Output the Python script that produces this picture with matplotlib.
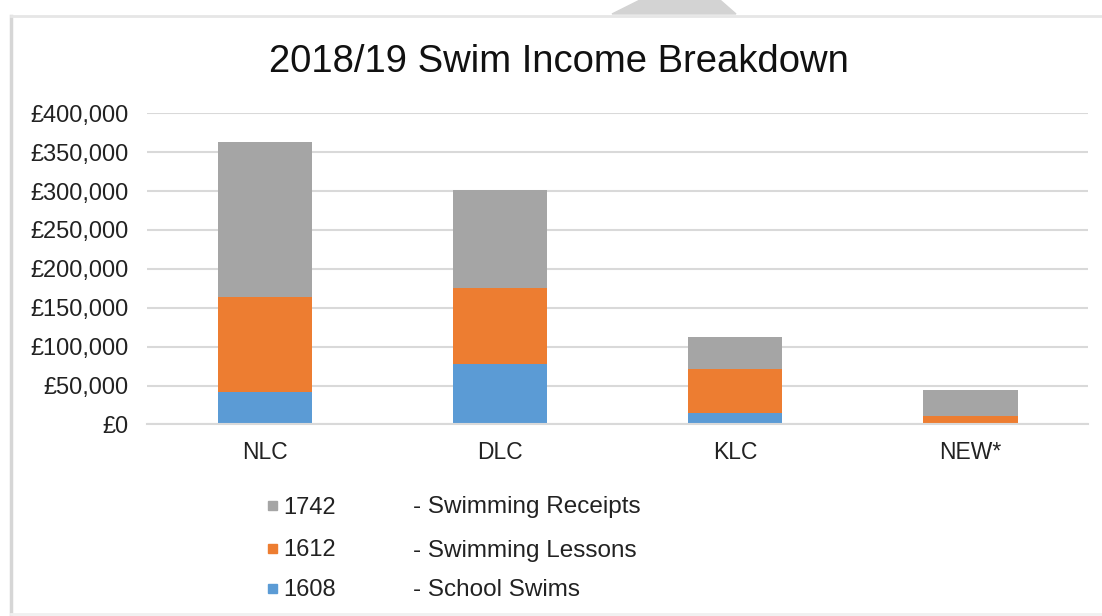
"""Stacked bar chart of swim income by centre, 2018/19."""

import matplotlib
matplotlib.use("Agg")
import matplotlib.pyplot as plt
from matplotlib.patches import Polygon, Rectangle
from matplotlib.ticker import FuncFormatter

centres = ["NLC", "DLC", "KLC", "NEW*"]
school_swims = [42000, 78000, 15000, 0]          # 1608
swimming_lessons = [122000, 97000, 56000, 11000]  # 1612
swimming_receipts = [199000, 126000, 41500, 33000]  # 1742

legend_codes = ["1742", "1612", "1608"]
legend_names = ["- Swimming Receipts", "- Swimming Lessons", "- School Swims"]

BLUE, ORANGE, GREY = "#5B9BD5", "#ED7D31", "#A5A5A5"

plt.rcParams["font.family"] = ["Liberation Sans", "DejaVu Sans"]

fig = plt.figure(figsize=(11.02, 6.16), dpi=100)
ax = fig.add_axes([0.1334, 0.311, 0.854, 0.505])

x = range(len(centres))
lessons_base = [a for a in school_swims]
receipts_base = [a + b for a, b in zip(school_swims, swimming_lessons)]
width = 0.4
ax.bar(x, school_swims, width, color=BLUE, zorder=2)
ax.bar(x, swimming_lessons, width, bottom=lessons_base, color=ORANGE, zorder=2)
ax.bar(x, swimming_receipts, width, bottom=receipts_base, color=GREY, zorder=2)

ax.set_xlim(-0.5, len(centres) - 0.5)
ax.set_ylim(0, 400000)
ax.set_yticks(range(0, 400001, 50000))
ax.yaxis.set_major_formatter(FuncFormatter(lambda v, _: f"£{v:,.0f}"))
ax.set_xticks(list(x))
ax.set_xticklabels(centres)
ax.tick_params(axis="y", length=0, pad=13, labelsize=17, labelcolor="#222222")
ax.tick_params(axis="x", length=0, pad=12, labelsize=16.5, labelcolor="#222222")
ax.grid(axis="y", color="#d9d9d9", linewidth=1.5, zorder=0)
for side in ("top", "right", "left"):
    ax.spines[side].set_visible(False)
ax.spines["bottom"].set_color("#d9d9d9")
ax.spines["bottom"].set_linewidth(1.5)

fig.text(0.507, 0.900, "2018/19 Swim Income Breakdown", ha="center", va="center",
         fontsize=27.5, color="#111111")

# legend rows drawn by hand: colour square, account code, description
legend_colors = [GREY, ORANGE, BLUE]
row_y = [505, 548, 588]
for code, name, colour, y in zip(legend_codes, legend_names, legend_colors, row_y):
    fy = 1 - y / 616
    fig.patches.append(Rectangle((268 / 1102, fy - 4.5 / 616), 9 / 1102, 9 / 616,
                                 transform=fig.transFigure, color=colour))
    fig.text(283 / 1102, fy, code, ha="left", va="center_baseline", fontsize=17,
             color="#222222")
    fig.text(413 / 1102, fy, name, ha="left", va="center_baseline", fontsize=17.5,
             color="#222222")

# outer chart frame and the faint shape above it
fig.lines.append(plt.Line2D([11 / 1102, 11 / 1102], [0, 1 - 16 / 616],
                            transform=fig.transFigure, color="#d6d6d6", linewidth=2.5))
fig.lines.append(plt.Line2D([11 / 1102, 1], [1 - 16 / 616, 1 - 16 / 616],
                            transform=fig.transFigure, color="#e6e6e6", linewidth=2))
fig.lines.append(plt.Line2D([11 / 1102, 1], [2 / 616, 2 / 616],
                            transform=fig.transFigure, color="#f0f0f0", linewidth=2))
fig.patches.append(Polygon([(612 / 1102, 1 - 14 / 616), (640 / 1102, 1),
                            (720 / 1102, 1), (736 / 1102, 1 - 14 / 616)],
                           closed=True, transform=fig.transFigure, color="#d3d3d3"))

fig.savefig("out.png", dpi=100)
